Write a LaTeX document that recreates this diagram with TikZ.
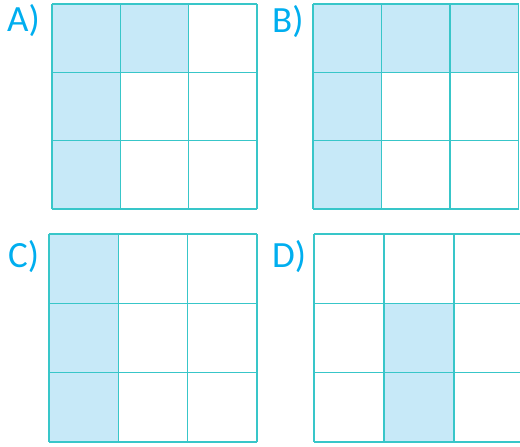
\documentclass[tikz,border=0pt]{standalone}
\usepackage{fontspec}
\setmainfont{Carlito}
\definecolor{cellfill}{HTML}{C7E9F8}
\definecolor{gridline}{HTML}{38C6C9}
\definecolor{labelblue}{HTML}{00AEEF}
\begin{document}
\begin{tikzpicture}[x=1pt,y=-1pt,
  lbl/.style={anchor=base west,inner sep=0pt,text=labelblue,font=\fontsize{37}{37}\selectfont},
  shade/.style={fill=cellfill},
  gridln/.style={draw=gridline,line width=1.6pt}]
\useasboundingbox (0,0) rectangle (520,447);
\clip (0,0) rectangle (520,447);
% A
\node[lbl] (la) at (7,31.5) {A)};
\fill[shade] (52,4) rectangle (188.6,72.3);
\fill[shade] (52,72.3) rectangle (120.3,209);
\foreach \i in {0,1,2,3} {
  \draw[gridln] ({52+68.33*\i},4) -- ({52+68.33*\i},209);
  \draw[gridln] (52,{4+68.33*\i}) -- (257,{4+68.33*\i});
}
% B
\node[lbl] (lb) at (272,32) {B)};
\fill[shade] (313,4) rectangle (518.5,72.5);
\fill[shade] (313,72.5) rectangle (381.5,209);
\foreach \i in {0,1,2,3} {
  \draw[gridln] ({313+68.5*\i},4) -- ({313+68.5*\i},209);
  \draw[gridln] (313,{4+68.33*\i}) -- (518.5,{4+68.33*\i});
}
% C
\node[lbl] (lc) at (8,267) {C)};
\fill[shade] (49,234) rectangle (119,442);
\foreach \i in {0,1,2,3} {
  \draw[gridln] ({49+69.33*\i},234) -- ({49+69.33*\i},442);
  \draw[gridln] (49,{234+69.33*\i}) -- (257,{234+69.33*\i});
}
% D
\node[lbl] (ld) at (272,267) {D)};
\fill[shade] (384,303.3) rectangle (454,442);
\foreach \i in {0,1,2,3} {
  \draw[gridln] ({314+70*\i},234) -- ({314+70*\i},442);
  \draw[gridln] (314,{234+69.33*\i}) -- (524,{234+69.33*\i});
}
\end{tikzpicture}
\end{document}
